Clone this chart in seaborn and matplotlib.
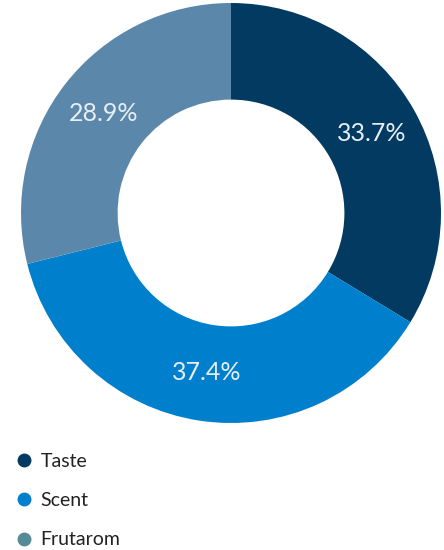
import matplotlib
matplotlib.use("Agg")
import matplotlib.pyplot as plt
from matplotlib.lines import Line2D
import seaborn as sns

# Share of sales by segment
segments = ["Taste", "Scent", "Frutarom"]
shares = [33.7, 37.4, 28.9]
slice_colors = ["#023a61", "#0080cc", "#5b88aa"]
legend_colors = ["#023a61", "#0080cc", "#558b96"]

sns.set_theme(style="white")
plt.rcParams["font.family"] = ["Lato", "DejaVu Sans"]

fig = plt.figure(figsize=(4.44, 5.50), dpi=100)
fig.patch.set_facecolor("white")

W, H = 444, 550
cx, cy, R = 231, 213, 210
ax = fig.add_axes([(cx - R) / W, (H - cy - R) / H, 2 * R / W, 2 * R / H])

wedges, texts, autotexts = ax.pie(
    shares,
    colors=slice_colors,
    startangle=90,
    counterclock=False,
    radius=1.0,
    wedgeprops=dict(width=0.46, edgecolor="none", linewidth=0),
    autopct="%.1f%%",
    pctdistance=0.77,
    textprops=dict(color="#e8eef3", fontsize=18, fontweight="normal"),
)
ax.set_aspect("equal")
ax.set_xlim(-1, 1)
ax.set_ylim(-1, 1)
ax.axis("off")

handles = [
    Line2D([0], [0], marker="o", linestyle="none", markersize=10,
           markerfacecolor=c, markeredgecolor="none")
    for c in legend_colors
]
fig.legend(
    handles, segments,
    loc="upper left",
    bbox_to_anchor=(17 / W, (H - 453) / H),
    frameon=False,
    fontsize=14,
    labelcolor="#222222",
    handlelength=0.75,
    handletextpad=0.45,
    labelspacing=1.14,
    borderaxespad=0.0,
    borderpad=0.0,
)

fig.savefig("out.png", dpi=100, facecolor="white")
